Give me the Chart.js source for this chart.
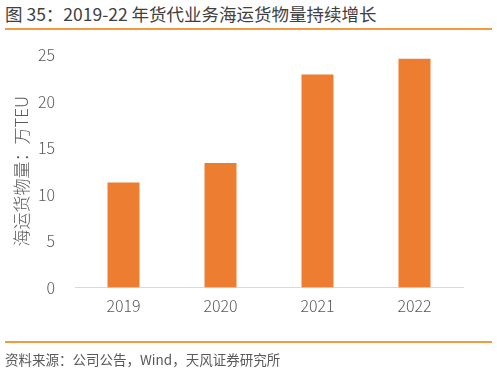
<!DOCTYPE html>
<html>
<head>
<meta charset="utf-8">
<script src="https://cdn.jsdelivr.net/npm/chart.js@4/dist/chart.umd.min.js"></script>
<style>
    body { margin: 0; background: #fff; }
    #wrap { position: relative; width: 497px; height: 372px; overflow: hidden; font-family: "Noto Sans CJK SC", sans-serif; }
    #title { position: absolute; left: 5px; top: 1px; font-size: 17.5px; color: #404040; white-space: nowrap; }
    .rule { position: absolute; left: 5px; width: 487px; height: 2px; background: #F39A3E; }
    #note { position: absolute; left: 5px; top: 349px; font-size: 13.5px; color: #595959; white-space: nowrap; }
    #box { position: absolute; left: 0; top: 0; width: 497px; height: 372px; }
</style>
</head>
<body>
<div id="wrap">
    <div id="title">图 35：2019-22 年货代业务海运货物量持续增长</div>
    <div class="rule" style="top:28px"></div>
    <div id="box"><canvas id="volChart"></canvas></div>
    <div class="rule" style="top:341px"></div>
    <div id="note">资料来源：公司公告，Wind，天风证券研究所</div>
</div>
<script>
// 数据
const years = ['2019', '2020', '2021', '2022'];
const volume = [11.3, 13.4, 22.9, 24.6];
const yTicks = [0, 5, 10, 15, 20, 25];

const ctx = document.getElementById('volChart').getContext('2d');
const volChart = new Chart(ctx, {
    type: 'bar',
    data: {
        labels: years,
        datasets: [{
            label: '海运货物量',
            data: volume,
            backgroundColor: '#ED7D31',
            categoryPercentage: 1,
            barPercentage: 0.33
        }]
    },
    options: {
        responsive: true,
        maintainAspectRatio: false,
        animation: false,
        layout: { padding: { top: 55, right: 34, left: 0, bottom: 0 } },
        plugins: { legend: { display: false }, tooltip: { enabled: false } },
        scales: {
            x: {
                grid: { display: false, drawTicks: false },
                border: { color: '#D9D9D9', width: 1 },
                ticks: { color: '#595959', font: { size: 16, family: 'Noto Sans CJK SC', weight: 300 }, padding: 9 },
                afterFit: s => { s.height = 372 - 287.5; }
            },
            y: {
                min: 0,
                max: 25,
                afterBuildTicks: s => { s.ticks = yTicks.map(v => ({ value: v })); },
                grid: { display: false, drawTicks: false },
                border: { display: false },
                ticks: { color: '#595959', font: { size: 16, family: 'Noto Sans CJK SC', weight: 300 }, padding: 20 },
                title: {
                    display: true,
                    text: '海运货物量：万TEU',
                    color: '#595959',
                    font: { size: 17, family: 'Noto Sans CJK SC', weight: 300 },
                    padding: { top: 11, bottom: 0 }
                },
                afterFit: s => { s.width = 75; }
            }
        }
    }
});
</script>
</body>
</html>
